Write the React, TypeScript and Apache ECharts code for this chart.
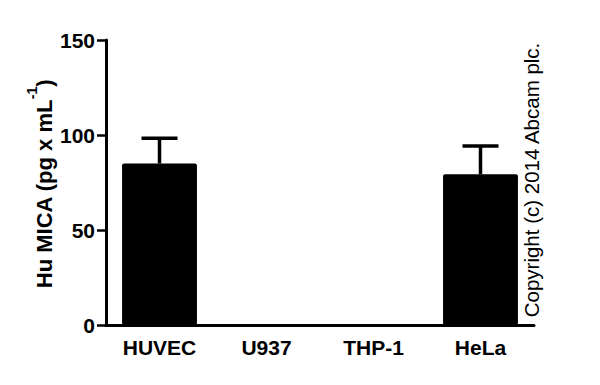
import React, { useEffect, useRef } from "react";
import * as echarts from "echarts";

const categories = ["HUVEC", "U937", "THP-1", "HeLa"];
const means = [85, 0, 0, 79.3];
const upperErrors = [13.3, 0, 0, 14.9];
const yTicks = { min: 0, max: 150, interval: 50 };

const FONT = "'Liberation Sans', Arial, sans-serif";

export default function App() {
  const ref = useRef<HTMLDivElement>(null);
  useEffect(() => {
    if (!ref.current) return;
    const chart = echarts.init(ref.current, undefined, { renderer: "svg" });
    const errData = categories.map((c, i) => [i, means[i], means[i] + upperErrors[i]]);
    chart.setOption({
      animation: false,
      backgroundColor: "#ffffff",
      grid: { left: 106, right: 66, top: 40, bottom: 60, containLabel: false },
      xAxis: {
        type: "category",
        data: categories,
        axisLine: { lineStyle: { color: "#000", width: 3 } },
        axisTick: { alignWithLabel: true, length: 8, lineStyle: { color: "#000", width: 2.5 } },
        axisLabel: { color: "#000", fontFamily: FONT, fontWeight: "bold", fontSize: 21, margin: 12 },
        splitLine: { show: false },
      },
      yAxis: {
        type: "value",
        min: yTicks.min,
        max: yTicks.max,
        interval: yTicks.interval,
        axisLine: { show: true, lineStyle: { color: "#000", width: 3 } },
        axisTick: { show: true, length: 9, lineStyle: { color: "#000", width: 2.5 } },
        axisLabel: { color: "#000", fontFamily: FONT, fontWeight: "bold", fontSize: 21, margin: 11 },
        splitLine: { show: false },
      },
      series: [
        {
          type: "bar",
          data: means,
          barWidth: "70%",
          itemStyle: { color: "#000", borderRadius: 2 },
        },
        {
          type: "custom",
          data: errData,
          z: 1,
          renderItem: (params: any, api: any) => {
            const i = api.value(0);
            const lo = api.coord([i, api.value(1)]);
            const hi = api.coord([i, api.value(2)]);
            if (api.value(2) - api.value(1) <= 0) return { type: "group", children: [] };
            const half = 18;
            const style = { stroke: "#000", lineWidth: 3.5 };
            return {
              type: "group",
              children: [
                { type: "line", shape: { x1: lo[0], y1: lo[1], x2: hi[0], y2: hi[1] }, style },
                { type: "line", shape: { x1: hi[0] - half, y1: hi[1], x2: hi[0] + half, y2: hi[1] }, style },
              ],
            };
          },
        },
      ],
      graphic: [
        {
          type: "text",
          x: 40,
          y: 184,
          rotation: Math.PI / 2,
          style: {
            text: "{m|Hu MICA (pg x mL}{s|-1}{m|)}",
            align: "center",
            verticalAlign: "middle",
            fill: "#000",
            rich: {
              m: { fontFamily: FONT, fontWeight: "bold", fontSize: 22, lineHeight: 30, verticalAlign: "bottom", fill: "#000" },
              s: { fontFamily: FONT, fontWeight: "bold", fontSize: 14, lineHeight: 30, verticalAlign: "top", fill: "#000" },
            },
          },
        },
        {
          type: "text",
          x: 531,
          y: 180,
          rotation: Math.PI / 2,
          style: {
            text: "Copyright (c) 2014 Abcam plc.",
            align: "center",
            verticalAlign: "middle",
            fill: "#000",
            font: `normal 20.5px ${FONT}`,
          },
        },
      ],
    });
    return () => chart.dispose();
  }, []);
  return <div ref={ref} style={{ width: 600, height: 385, position: "absolute", left: 0, top: 0 }} />;
}
